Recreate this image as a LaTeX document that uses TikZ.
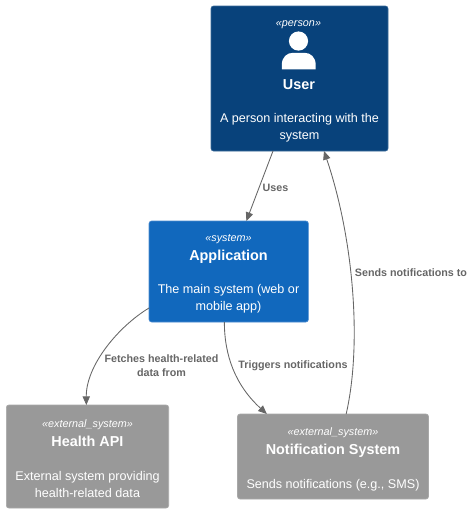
\documentclass[tikz,border=0pt]{standalone}
\usepackage{fontspec}
\setmainfont{Liberation Sans}
\usetikzlibrary{arrows.meta}
\definecolor{userfill}{HTML}{08427B}
\definecolor{userline}{HTML}{3A6A9A}
\definecolor{appfill}{HTML}{1168BD}
\definecolor{appline}{HTML}{4A8AD0}
\definecolor{extfill}{HTML}{999999}
\definecolor{extline}{HTML}{A8A8A8}
\definecolor{linkgray}{HTML}{666666}
\tikzset{
  box/.style={rounded corners=1.9pt, inner sep=0pt, outer sep=0pt, line width=0.5pt},
  userbox/.style={box, draw=userline, fill=userfill, minimum width=132.75pt, minimum height=108.75pt},
  appbox/.style={box, draw=appline, fill=appfill, minimum width=119.5pt, minimum height=75.75pt},
  healthbox/.style={box, draw=extline, fill=extfill, minimum width=121.75pt, minimum height=77.25pt},
  notifbox/.style={box, draw=extline, fill=extfill, minimum width=143.25pt, minimum height=63.75pt},
  stereo/.style={text=white, font=\fontsize{8.1}{10}\selectfont\itshape, inner sep=0pt},
  heading/.style={text=white, font=\fontsize{10.8}{13}\selectfont\bfseries, inner sep=0pt},
  desc/.style={text=white, font=\fontsize{9.45}{12.6}\selectfont, align=center, inner sep=0pt},
  link/.style={draw=linkgray, line width=0.65pt, -{Triangle[length=6.5pt,width=5.5pt,fill=linkgray]}},
  linklabel/.style={text=linkgray, font=\fontsize{8.05}{10.6}\selectfont\bfseries, align=center, inner sep=0pt}
}
\begin{document}
\begin{tikzpicture}[x=0.75pt,y=-0.75pt]
\useasboundingbox (0,0) rectangle (473,512);
% boxes
\node[userbox] (user) at (299.5,78.5) {};
\node[appbox] (app) at (228.7,271.5) {};
\node[healthbox] (health) at (87.5,456.5) {};
\node[notifbox] (notif) at (333,456.5) {};
% user
\node[stereo] (userst) at (298.5,25) {«person»};
\fill[white] (298.5,41) circle (9.6);
\fill[white] (281.8,69.4) -- (281.8,65) .. controls (281.8,57) and (287,52.8) .. (293,52.8)
  -- (304.5,52.8) .. controls (310.5,52.8) and (315.7,57) .. (315.7,65) -- (315.7,69.4) -- cycle;
\node[heading] (usert) at (299,85) {User};
\node[desc] (userd) at (299.5,128) {A person interacting with the\\system};
% app
\node[stereo] (appst) at (228.5,239.5) {«system»};
\node[heading] (appt) at (228.5,256.5) {Application};
\node[desc] (appd) at (228.5,299) {The main system (web or\\mobile app)};
% health
\node[stereo] (healthst) at (87.5,424.5) {«external\_system»};
\node[heading] (healtht) at (87.5,441) {Health API};
\node[desc] (healthd) at (87.5,484.5) {External system providing\\health-related data};
% notification
\node[stereo] (notifst) at (333,433) {«external\_system»};
\node[heading] (notift) at (333,450.5) {Notification System};
\node[desc] (notifd) at (333,485) {Sends notifications (e.g., SMS)};
% connectors
\draw[link] ([xshift=46.5pt]user.south west) -- ([xshift=73pt]app.north west);
\draw[link] ([yshift=10.5pt]app.south west) .. controls +(-30,18) and (86,365) .. ([xshift=60pt]health.north west);
\draw[link] ([xshift=56.5pt]app.south west) .. controls +(0,33) and (235,385) .. ([xshift=22pt]notif.north west);
\draw[link] ([xshift=81.5pt]notif.north west) .. controls (362,345) and (354,240) .. ([xshift=84.75pt]user.south west);
% labels
\node[linklabel] (uses) at (275.5,187.5) {Uses};
\node[linklabel] (fetch) at (161.5,365.5) {Fetches health-related\\data from};
\node[linklabel] (trig) at (293,366) {Triggers notifications};
\node[linklabel] (send) at (411,272.5) {Sends notifications to};
\end{tikzpicture}
\end{document}
